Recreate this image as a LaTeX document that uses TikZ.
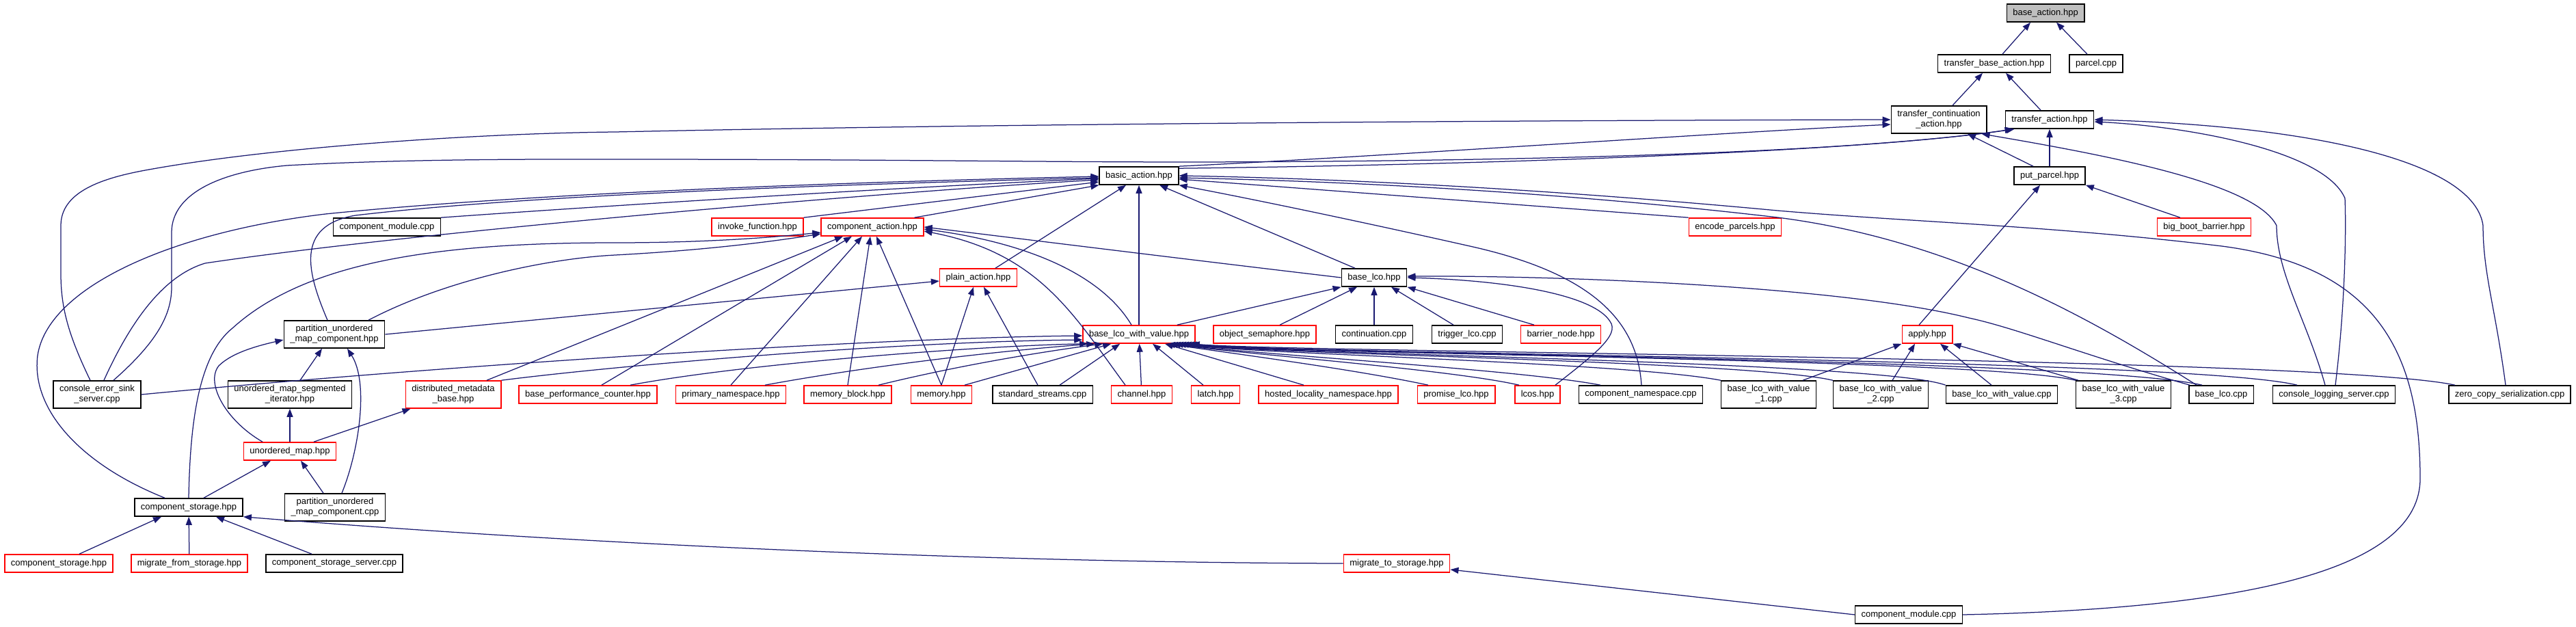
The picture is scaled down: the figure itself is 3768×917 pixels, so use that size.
\documentclass[tikz,border=0pt]{standalone}
\usepackage{fontspec}
\setmainfont{Liberation Sans}
\usepackage{tikz}
\usetikzlibrary{arrows.meta}
\definecolor{incblue}{RGB}{25,25,112}
\definecolor{rootfill}{RGB}{191,191,191}
\tikzset{
  file/.style={draw=black,line width=1.6pt,fill=white,inner xsep=9pt,inner ysep=2pt,
    minimum height=26pt,font=\fontsize{13}{15}\selectfont,align=center},
  redfile/.style={file,draw=red},
  rootfile/.style={file,fill=rootfill},
  twoline/.style={minimum height=40pt},
  inc/.style={draw=incblue,line width=1.25pt,-{Triangle[length=12pt,width=9pt]}},
}

\begin{document}
\begin{tikzpicture}[x=1pt,y=-1pt]
\useasboundingbox[fill=white] (0,0) rectangle (3768,917);
% rows of files, top to bottom
\node[rootfile] (ba) at (2992,19) {base\_action.hpp};
\node[file] (tba) at (2917,93) {transfer\_base\_action.hpp};
\node[file] (parcel) at (3066,93) {parcel.cpp};
\node[file,twoline] (tca) at (2836,175) {transfer\_continuation\\\_action.hpp};
\node[file] (ta) at (2998,175) {transfer\_action.hpp};
\node[file] (basic) at (1666,257) {basic\_action.hpp};
\node[file] (pp) at (2998,257) {put\_parcel.hpp};
\node[file] (cmod) at (566,332) {component\_module.cpp};
\node[redfile] (invoke) at (1108,332) {invoke\_function.hpp};
\node[redfile] (cact) at (1276,332) {component\_action.hpp};
\node[redfile] (encode) at (2538,332) {encode\_parcels.hpp};
\node[redfile] (bbb) at (3224,332) {big\_boot\_barrier.hpp};
\node[redfile] (plain) at (1431,406) {plain\_action.hpp};
\node[file] (blco) at (2010,406) {base\_lco.hpp};
\node[file,twoline] (pumch) at (489,489) {partition\_unordered\\\_map\_component.hpp};
\node[redfile] (blwv) at (1666,489) {base\_lco\_with\_value.hpp};
\node[redfile] (osem) at (1850,489) {object\_semaphore.hpp};
\node[file] (cont) at (2010,489) {continuation.cpp};
\node[file] (trig) at (2146,489) {trigger\_lco.cpp};
\node[redfile] (barrier) at (2283,489) {barrier\_node.hpp};
\node[redfile] (apply) at (2819,489) {apply.hpp};
\node[file,twoline] (cess) at (142,577) {console\_error\_sink\\\_server.cpp};
\node[file,twoline] (umsi) at (424,577) {unordered\_map\_segmented\\\_iterator.hpp};
\node[redfile,twoline] (dmb) at (663,577) {distributed\_metadata\\\_base.hpp};
\node[redfile] (bpc) at (860,577) {base\_performance\_counter.hpp};
\node[redfile] (pns) at (1069,577) {primary\_namespace.hpp};
\node[redfile] (mblock) at (1240,577) {memory\_block.hpp};
\node[redfile] (mem) at (1377,577) {memory.hpp};
\node[file] (sstr) at (1525,577) {standard\_streams.cpp};
\node[redfile] (chan) at (1670,577) {channel.hpp};
\node[redfile] (latch) at (1778,577) {latch.hpp};
\node[redfile] (hln) at (1943,577) {hosted\_locality\_namespace.hpp};
\node[redfile] (plco) at (2130,577) {promise\_lco.hpp};
\node[redfile] (lcos) at (2249,577) {lcos.hpp};
\node[file] (cns) at (2400,577) {component\_namespace.cpp};
\node[file,twoline] (bwv1) at (2587,577) {base\_lco\_with\_value\\\_1.cpp};
\node[file,twoline] (bwv2) at (2751,577) {base\_lco\_with\_value\\\_2.cpp};
\node[file] (bwvc) at (2928,577) {base\_lco\_with\_value.cpp};
\node[file,twoline] (bwv3) at (3106,577) {base\_lco\_with\_value\\\_3.cpp};
\node[file] (blcoc) at (3249,577) {base\_lco.cpp};
\node[file] (cls) at (3414,577) {console\_logging\_server.cpp};
\node[file] (zcs) at (3671,577) {zero\_copy\_serialization.cpp};
\node[redfile] (umap) at (424,660) {unordered\_map.hpp};
\node[file] (cstor) at (276,742) {component\_storage.hpp};
\node[file,twoline] (pumcc) at (490,742) {partition\_unordered\\\_map\_component.cpp};
\node[redfile] (cstorr) at (86,824) {component\_storage.hpp};
\node[redfile] (mfs) at (277,824) {migrate\_from\_storage.hpp};
\node[file] (css) at (489,824) {component\_storage\_server.cpp};
\node[redfile] (mts) at (2043,824) {migrate\_to\_storage.hpp};
\node[file] (cmod2) at (2792,899) {component\_module.cpp};
% include edges, arrow at the included file
\draw[inc] ([xshift=12pt]tba.north) -- ([xshift=-22pt]ba.south);
\draw[inc] ([xshift=-13pt]parcel.north) -- ([xshift=16pt]ba.south);
\draw[inc] ([xshift=20pt]tca.north) -- ([xshift=-17pt]tba.south);
\draw[inc] ([xshift=-13pt]ta.north) -- ([xshift=17pt]tba.south);
\draw[inc] (pp) -- (ta);
\draw[inc] ([xshift=-24pt]pp.north) -- ([xshift=42pt]tca.south);
\draw[inc] (basic.north east) .. controls (2000,230) and (2500,195) .. ([yshift=-7pt]tca.west);
\draw[inc] ([yshift=-3pt]basic.north east) .. controls (2100,242) and (2700,225) .. ([xshift=14pt]ta.south west);
\draw[inc] ([xshift=-10pt]cess.north) .. controls (100,490) and (89,450) .. (89,400) -- (89,330)
  .. controls (89,280) and (150,260) .. (218,248) .. controls (400,215) and (700,195) .. (900,193)
  .. controls (1500,180) and (2300,176) .. (tca.west);
\draw[inc] ([xshift=24pt]cess.north) .. controls (230,500) and (251,460) .. (251,420) -- (251,340)
  .. controls (251,280) and (330,250) .. (420,242) .. controls (600,232) and (800,233) .. (900,233)
  .. controls (1300,233) and (1500,237) .. (1750,237) .. controls (2200,236) and (2700,225) .. ([xshift=12pt]ta.south west);
\draw[inc] ([xshift=10pt]cess.north) .. controls (200,450) and (250,400) .. (300,385)
  .. controls (600,340) and (1300,280) .. ([yshift=-6pt]basic.west);
\draw[inc] ([xshift=-35pt]cstor.north) .. controls (120,680) and (45,600) .. (55,520)
  .. controls (70,420) and (250,340) .. (476,313) .. controls (800,280) and (1300,265) .. ([yshift=-1pt]basic.west);
\draw[inc] ([xshift=-10pt]pumch.north) .. controls (450,400) and (430,330) .. (520,315)
  .. controls (800,282) and (1300,268) .. ([yshift=-3pt]basic.west);
\draw[inc] (cmod.north east) .. controls (900,300) and (1300,275) .. ([yshift=-4pt]basic.west);
\draw[inc] (invoke.north east) -- ([yshift=-9pt]basic.west);
\draw[inc] ([xshift=-14pt]cact.north east) -- (basic.south west);
\draw[inc] ([xshift=25pt]plain.north) -- ([xshift=-19pt]basic.south);
\draw[inc] (blwv) -- (basic);
\draw[inc] ([xshift=-28pt]blco.north) -- ([xshift=30pt]basic.south);
\draw[inc] (encode.north west) -- ([yshift=-5pt]basic.east);
\draw[inc] ([xshift=1pt]cns.north) .. controls (2395,470) and (2330,400) .. (2150,360)
  .. controls (1950,315) and (1800,285) .. (basic.south east);
\draw[inc] ([xshift=-36pt]blcoc.north) .. controls (3050,460) and (2850,350) .. (2600,318)
  .. controls (2300,283) and (2000,266) .. ([yshift=-3pt]basic.east);
\draw[inc] (cmod2.east) .. controls (3300,890) and (3540,830) .. (3540,700)
  .. controls (3540,520) and (3480,390) .. (3250,360) .. controls (3000,330) and (2800,325) .. (2600,308)
  .. controls (2300,280) and (2000,262) .. (basic.east);
\draw[inc] (cstor.north) .. controls (278,620) and (290,520) .. (340,480)
  .. controls (450,380) and (650,355) .. (900,355) .. controls (1050,355) and (1150,345) .. ([yshift=-8pt]cact.west);
\draw[inc] ([xshift=50pt]pumch.north) .. controls (650,410) and (800,378) .. (900,373)
  .. controls (1050,365) and (1150,350) .. ([yshift=-10pt]cact.west);
\draw[inc] ([xshift=49pt]dmb.north) -- ([xshift=-43pt]cact.south);
\draw[inc] ([xshift=20pt]bpc.north) -- ([xshift=-30pt]cact.south);
\draw[inc] (pns.north) -- ([xshift=-15pt]cact.south);
\draw[inc] (mblock.north) -- ([xshift=-3pt]cact.south);
\draw[inc] (mem.north) -- ([xshift=6pt]cact.south);
\draw[inc] ([xshift=-24pt]chan.north) .. controls (1570,460) and (1520,370) .. ([yshift=-6pt]cact.east);
\draw[inc] ([xshift=-11pt]blwv.north) .. controls (1610,400) and (1500,355) .. ([yshift=-3pt]cact.east);
\draw[inc] (blco.west) .. controls (1700,375) and (1500,350) .. (cact.east);
\draw[inc] (pumch.east) -- ([yshift=-5pt]plain.west);
\draw[inc] (mem.north) -- ([xshift=-7pt]plain.south);
\draw[inc] ([xshift=-7pt]sstr.north) -- ([xshift=8pt]plain.south);
\draw[inc] (cess.east) .. controls (700,530) and (1300,494) .. ([yshift=-2pt]blwv.west);
\draw[inc] (dmb.north east) .. controls (900,535) and (1300,500) .. ([yshift=-8pt]blwv.west);
\draw[inc] ([xshift=62pt]bpc.north) .. controls (1100,530) and (1450,505) .. ([xshift=8pt]blwv.south west);
\draw[inc] ([xshift=50pt]pns.north) .. controls (1300,530) and (1500,510) .. ([xshift=18pt]blwv.south west);
\draw[inc] ([xshift=45pt]mblock.north) .. controls (1400,535) and (1520,515) .. ([xshift=30pt]blwv.south west);
\draw[inc] ([xshift=34pt]mem.north) -- ([xshift=42pt]blwv.south west);
\draw[inc] ([xshift=25pt]sstr.north) -- ([xshift=55pt]blwv.south west);
\draw[inc] (chan) -- (blwv);
\draw[inc] ([xshift=-18pt]latch.north) -- ([xshift=20pt]blwv.south);
\draw[inc] ([xshift=-36pt]hln.north) -- ([xshift=38pt]blwv.south);
\draw[inc] ([xshift=-41pt]plco.north) .. controls (1980,540) and (1810,518) .. ([xshift=-42pt]blwv.south east);
\draw[inc] ([xshift=-27pt]lcos.north) .. controls (2120,540) and (1820,518) .. ([xshift=-38pt]blwv.south east);
\draw[inc] ([xshift=-59pt]cns.north) .. controls (2220,540) and (1830,518) .. ([xshift=-34pt]blwv.south east);
\draw[inc] (bwv1.north west) .. controls (2380,530) and (1840,518) .. ([xshift=-30pt]blwv.south east);
\draw[inc] (bwv2.north west) .. controls (2560,528) and (1850,518) .. ([xshift=-26pt]blwv.south east);
\draw[inc] (bwvc.north west) .. controls (2750,528) and (1860,518) .. ([xshift=-22pt]blwv.south east);
\draw[inc] (bwv3.north west) .. controls (2900,524) and (1870,518) .. ([xshift=-18pt]blwv.south east);
\draw[inc] ([xshift=-28pt]blcoc.north) .. controls (3050,524) and (1880,518) .. ([xshift=-14pt]blwv.south east);
\draw[inc] ([xshift=-54pt]cls.north) .. controls (3200,524) and (1890,518) .. ([xshift=-10pt]blwv.south east);
\draw[inc] ([xshift=-80pt]zcs.north) .. controls (3400,522) and (1900,516) .. ([xshift=-6pt]blwv.south east);
\draw[inc] ([xshift=-27pt]blwv.north east) -- (blco.south west);
\draw[inc] ([xshift=22pt]osem.north) -- ([xshift=-25pt]blco.south);
\draw[inc] (cont) -- (blco);
\draw[inc] ([xshift=-20pt]trig.north) -- ([xshift=25pt]blco.south);
\draw[inc] ([xshift=-39pt]barrier.north) -- (blco.south east);
\draw[inc] ([xshift=26pt]lcos.north) .. controls (2330,520) and (2370,490) .. (2355,470)
  .. controls (2330,430) and (2200,410) .. (blco.east);
\draw[inc] ([xshift=-46pt]blcoc.north) .. controls (3050,520) and (2950,480) .. (2880,465)
  .. controls (2700,420) and (2300,403) .. ([yshift=2pt]blco.east);
\draw[inc] ([xshift=50pt]bwv1.north) -- (apply.south west);
\draw[inc] ([xshift=17pt]bwv2.north) -- ([xshift=-18pt]apply.south);
\draw[inc] ([xshift=-15pt]bwvc.north) -- ([xshift=19pt]apply.south);
\draw[inc] ([xshift=-66pt]bwv3.north) -- (apply.south east);
\draw[inc] ([xshift=-12pt]apply.north) -- ([xshift=-14pt]pp.south);
\draw[inc] ([xshift=-35pt]bbb.north) -- (pp.south east);
\draw[inc] ([xshift=-13pt]cls.north) .. controls (3375,470) and (3330,400) .. (3330,330)
  .. controls (3300,270) and (3100,230) .. ([xshift=-8pt]tca.south east);
\draw[inc] ([xshift=2pt]cls.north) .. controls (3430,450) and (3432,340) .. (3430,290)
  .. controls (3400,220) and (3200,185) .. ([yshift=-3pt]ta.east);
\draw[inc] ([xshift=-6pt]zcs.north) .. controls (3650,450) and (3632,400) .. (3632,330)
  .. controls (3620,240) and (3400,185) .. (ta.east);
\draw[inc] ([xshift=30pt]cstorr.north) -- ([xshift=-40pt]cstor.south);
\draw[inc] (mfs) -- (cstor);
\draw[inc] ([xshift=-33pt]css.north) -- ([xshift=40pt]cstor.south);
\draw[inc] (mts.west) .. controls (1500,823) and (900,800) .. (cstor.south east);
\draw[inc] (cmod2.west) -- ([yshift=-9pt]mts.east);
\draw[inc] ([xshift=22pt]cstor.north) -- ([xshift=-28pt]umap.south);
\draw[inc] ([xshift=-17pt]pumcc.north) -- ([xshift=16pt]umap.south);
\draw[inc] (umap) -- (umsi);
\draw[inc] ([xshift=35pt]umap.north) -- ([xshift=8pt]dmb.south west);
\draw[inc] ([xshift=-40pt]umap.north) .. controls (330,615) and (300,560) .. (320,535)
  .. controls (340,515) and (380,505) .. ([yshift=-8pt]pumch.west);
\draw[inc] ([xshift=15pt]umsi.north) -- ([xshift=-18pt]pumch.south);
\draw[inc] ([xshift=10pt]pumcc.north) .. controls (525,660) and (540,560) .. ([xshift=19pt]pumch.south);
\end{tikzpicture}
\end{document}
